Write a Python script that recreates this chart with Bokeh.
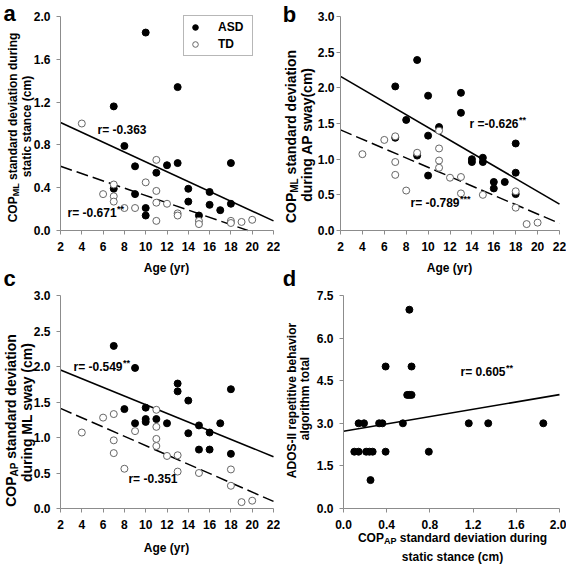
import math
from bokeh.plotting import figure
from bokeh.models import Range1d, FixedTicker, Label, Legend, LegendItem
from bokeh.layouts import row, column
from bokeh.embed import file_html
from bokeh.resources import INLINE

# ---------------- data ----------------
age_ticks = [2, 4, 6, 8, 10, 12, 14, 16, 18, 20, 22]
age_labels = ["2", "4", "6", "8", "10", "12", "14", "16", "18", "20", "22"]
a_y_ticks = [0.0, 0.4, 0.8, 1.2, 1.6, 2.0]
a_y_labels = ["0.0", "0.4", "0.8", "1.2", "1.6", "2.0"]
bc_y_ticks = [0.0, 0.5, 1.0, 1.5, 2.0, 2.5, 3.0]
bc_y_labels = ["0.0", "0.5", "1.0", "1.5", "2.0", "2.5", "3.0"]
d_x_ticks = [0.0, 0.4, 0.8, 1.2, 1.6, 2.0]
d_x_labels = ["0.0", "0.4", "0.8", "1.2", "1.6", "2.0"]
d_y_ticks = [0.0, 1.5, 3.0, 4.5, 6.0, 7.5]
d_y_labels = ["0.0", "1.5", "3.0", "4.5", "6.0", "7.5"]

# panel a
a_asd_age = [10, 13, 7, 8, 9, 11, 12, 13, 18, 14, 9, 7, 14, 16, 16, 17, 18, 10, 10, 15]
a_asd_val = [1.85, 1.34, 1.16, 0.79, 0.60, 0.54, 0.61, 0.63, 0.63, 0.39, 0.34, 0.39,
             0.27, 0.36, 0.24, 0.19, 0.25, 0.21, 0.14, 0.14]
a_td_age = [4, 11, 10, 7, 6, 7, 7, 8, 9, 11, 11, 12, 13, 13, 11, 15, 15, 18, 18, 19, 20]
a_td_val = [1.00, 0.66, 0.45, 0.43, 0.34, 0.32, 0.27, 0.21, 0.21, 0.37, 0.26, 0.25,
            0.16, 0.14, 0.09, 0.09, 0.06, 0.09, 0.07, 0.08, 0.10]
a_asd_fit_x = [2, 22]
a_asd_fit_y = [1.01, 0.09]
a_td_fit_x = [2, 19.6]
a_td_fit_y = [0.60, 0.0]

# panel b
b_asd_age = [9, 7, 10, 13, 13, 8, 11, 10, 7, 9, 10, 14, 14, 15, 15, 16, 16, 17, 18, 18, 18]
b_asd_val = [2.39, 2.02, 1.89, 1.93, 1.65, 1.55, 1.45, 1.33, 1.30, 1.05, 0.77, 1.00,
             0.96, 1.02, 0.96, 0.68, 0.59, 0.68, 1.22, 0.81, 0.51]
b_td_age = [4, 6, 7, 7, 7, 8, 9, 11, 11, 11, 11, 12, 13, 13, 15, 18, 18, 19, 20]
b_td_val = [1.07, 1.27, 1.32, 0.96, 0.78, 0.56, 1.09, 1.40, 1.15, 0.98, 0.88, 0.74,
            0.75, 0.52, 0.50, 0.55, 0.32, 0.09, 0.11]
b_asd_fit_x = [2, 22]
b_asd_fit_y = [2.16, 0.37]
b_td_fit_x = [2, 22]
b_td_fit_y = [1.41, 0.10]

# panel c
c_asd_age = [7, 9, 13, 13, 18, 14, 8, 10, 10, 10, 9, 11, 12, 17, 15, 16, 14, 15, 16, 18]
c_asd_val = [2.29, 1.98, 1.76, 1.65, 1.68, 1.52, 1.40, 1.42, 1.26, 1.22, 1.20, 1.26,
             1.20, 1.20, 1.17, 1.07, 1.06, 0.83, 0.83, 0.77]
c_td_age = [4, 6, 7, 7, 7, 8, 9, 11, 11, 11, 11, 12, 13, 13, 15, 18, 18, 19, 20]
c_td_val = [1.07, 1.28, 1.33, 0.96, 0.78, 0.56, 1.09, 1.39, 1.15, 0.98, 0.88, 0.74,
            0.75, 0.52, 0.50, 0.55, 0.32, 0.09, 0.11]
c_asd_fit_x = [2, 22]
c_asd_fit_y = [1.95, 0.73]
c_td_fit_x = [2, 22]
c_td_fit_y = [1.41, 0.10]

# panel d
d_cop = [0.61, 0.39, 0.63, 0.59, 0.61, 0.63, 0.14, 0.19, 0.33, 0.36, 0.55, 1.16, 1.34,
         1.85, 0.10, 0.14, 0.21, 0.24, 0.27, 0.39, 0.79, 0.25]
d_ados = [7, 5, 5, 4, 4, 4, 3, 3, 3, 3, 3, 3, 3, 3, 2, 2, 2, 2, 2, 2, 2, 1]
d_fit_x = [0.0, 2.0]
d_fit_y = [2.72, 4.01]

# ---------------- styling helpers ----------------
FONT = "Liberation Sans"
AXC = "#8c8c8c"

_W = {' ': 278, '!': 333, '(': 333, ')': 333, '*': 389, '-': 333, '.': 278, '=': 584,
      'A': 722, 'B': 722, 'C': 722, 'D': 722, 'E': 667, 'F': 611, 'G': 778, 'H': 722,
      'I': 278, 'J': 556, 'K': 722, 'L': 611, 'M': 833, 'N': 722, 'O': 778, 'P': 667,
      'Q': 778, 'R': 722, 'S': 667, 'T': 611, 'U': 722, 'V': 667, 'W': 944, 'X': 667,
      'Y': 667, 'Z': 611, 'a': 556, 'b': 611, 'c': 556, 'd': 611, 'e': 556, 'f': 333,
      'g': 611, 'h': 611, 'i': 278, 'j': 278, 'k': 556, 'l': 278, 'm': 889, 'n': 611,
      'o': 611, 'p': 611, 'q': 611, 'r': 389, 's': 556, 't': 333, 'u': 611, 'v': 556,
      'w': 778, 'x': 556, 'y': 556, 'z': 500}


def tw(s, size):
    return sum(_W.get(ch, 556) for ch in s) / 1000.0 * size


def lab(p, text, x, y, size, units="screen", angle=0.0, align="left",
        baseline="middle", xo=0, yo=0):
    p.add_layout(Label(x=x, y=y, x_units=units, y_units=units, text=text,
                       angle=angle, text_font=FONT, text_font_style="bold",
                       text_font_size=f"{size}px", text_color="black",
                       text_align=align, text_baseline=baseline,
                       x_offset=xo, y_offset=yo))


def rich_h(p, segs, cx, cy):
    """horizontal text centred at (cx, cy), canvas px from top-left"""
    H = p.height
    total = sum(tw(t, s) for t, s, sh in segs)
    x = cx - total / 2
    for t, s, sh in segs:
        body = t.lstrip()
        c = x + tw(t[:len(t) - len(body)], s) + tw(body, s) / 2
        lab(p, body, c, H - cy + sh, s, align="center")
        x += tw(t, s)


def rich_v(p, segs, cx, cy):
    """text rotated to read upwards, centred at (cx, cy), canvas px from top-left"""
    H = p.height
    total = sum(tw(t, s) for t, s, sh in segs)
    y = (H - cy) - total / 2
    for t, s, sh in segs:
        body = t.lstrip()
        c = y + tw(t[:len(t) - len(body)], s) + tw(body, s) / 2
        lab(p, body, cx - sh, c, s, angle=math.pi / 2, align="center")
        y += tw(t, s)


def letter(p, ch, cx, cy):
    lab(p, ch, cx, p.height - cy, 22, align="center")


def r_label(p, main, stars, x, y):
    lab(p, main, x, y, 12, units="data")
    if stars:
        lab(p, stars, x, y, 9, units="data", xo=tw(main, 12) + 0.5, yo=4)


def make_fig(w, h, box, xd, yd, xt, xl, yt, yl, ystand=6):
    """box = (left, right, top, bottom) of the plotting area in canvas px"""
    l, r, t, b = box
    kx = (r - l) / (xd[1] - xd[0])
    ky = (b - t) / (yd[1] - yd[0])
    xr = Range1d(xd[0] - l / kx, xd[1] + (w - r) / kx)
    yr = Range1d(yd[0] - (h - b) / ky, yd[1] + t / ky)
    p = figure(width=w, height=h, x_range=xr, y_range=yr,
               output_backend="svg", toolbar_location=None, tools="")
    p.min_border_left = 0
    p.min_border_right = 0
    p.min_border_top = 0
    p.min_border_bottom = 0
    p.xgrid.visible = False
    p.ygrid.visible = False
    p.outline_line_color = None
    p.background_fill_color = "white"
    p.border_fill_color = "white"
    p.xaxis.fixed_location = yd[0]
    p.yaxis.fixed_location = xd[0]
    p.xaxis.bounds = (xd[0], xd[1])
    p.yaxis.bounds = (yd[0], yd[1])
    for ax, ticks, labels, so in ((p.xaxis[0], xt, xl, 7), (p.yaxis[0], yt, yl, ystand)):
        ax.ticker = FixedTicker(ticks=ticks)
        ax.major_label_overrides = dict(zip(ticks, labels))
        ax.axis_line_color = AXC
        ax.axis_line_width = 1
        ax.major_tick_line_color = AXC
        ax.major_tick_in = 0
        ax.major_tick_out = 4
        ax.minor_tick_line_color = None
        ax.major_label_text_font = FONT
        ax.major_label_text_font_style = "bold"
        ax.major_label_text_font_size = "12px"
        ax.major_label_text_color = "black"
        ax.major_label_standoff = so
    return p


def two_groups(p, asd_x, asd_y, td_x, td_y, fa_x, fa_y, ft_x, ft_y):
    p.line(fa_x, fa_y, line_color="black", line_width=1.6)
    p.line(ft_x, ft_y, line_color="black", line_width=1.5, line_dash="12 5")
    ra = p.scatter(asd_x, asd_y, size=7, marker="circle", fill_color="black",
                   line_color="black", line_width=1)
    rt = p.scatter(td_x, td_y, size=7, marker="circle", fill_color="white",
                   line_color="#666666", line_width=1)
    return ra, rt


W1, W2, H1, H2 = 280, 286, 290, 280

# ---------------- panel a ----------------
p1 = make_fig(W1, H1, (60, 273, 16, 230), (2, 22), (0, 2.0),
              age_ticks, age_labels, a_y_ticks, a_y_labels)
ra, rt = two_groups(p1, a_asd_age, a_asd_val, a_td_age, a_td_val,
                    a_asd_fit_x, a_asd_fit_y, a_td_fit_x, a_td_fit_y)
leg = Legend(items=[LegendItem(label="ASD", renderers=[ra]),
                    LegendItem(label="TD", renderers=[rt])],
             location=(183, H1 - 56), orientation="vertical", margin=0, padding=4,
             spacing=3, glyph_width=14, glyph_height=14, label_height=14,
             label_width=30, label_standoff=16, border_line_color="#707070",
             border_line_width=1, background_fill_color="white",
             background_fill_alpha=1.0, label_text_font=FONT,
             label_text_font_style="bold", label_text_font_size="12px",
             label_text_color="black")
p1.add_layout(leg)
r_label(p1, "r= -0.363", "", 5.47, 0.935)
r_label(p1, "r= -0.671", "**", 2.66, 0.16)
rich_v(p1, [("COP", 12, 0), ("ML", 9, -3), (" standard deviation during", 12, 0)], 12, 127)
rich_v(p1, [("static stance (cm)", 12, 0)], 26, 126)
rich_h(p1, [("Age (yr)", 12, 0)], 166, 267)
letter(p1, "a", 9, 13)
letter(p1, "c", 9, 278)

# ---------------- panel b ----------------
p2 = make_fig(W2, H1, (60, 279, 16, 230), (2, 22), (0, 3.0),
              age_ticks, age_labels, bc_y_ticks, bc_y_labels, ystand=2)
two_groups(p2, b_asd_age, b_asd_val, b_td_age, b_td_val,
           b_asd_fit_x, b_asd_fit_y, b_td_fit_x, b_td_fit_y)
r_label(p2, "r =-0.626", "**", 13.78, 1.50)
r_label(p2, "r= -0.789", "***", 8.39, 0.38)
rich_v(p2, [("COP", 14, 0), ("ML", 10, -3.5), (" standard deviation", 14, 0)], 10, 136)
rich_v(p2, [("during AP sway(cm)", 14, 0)], 26, 134)
rich_h(p2, [("Age (yr)", 12, 0)], 169, 267)
letter(p2, "b", 9, 14)
letter(p2, "d", 9, 278)

# ---------------- panel c ----------------
p3 = make_fig(W1, H2, (60, 273, 5, 218), (2, 22), (0, 3.0),
              age_ticks, age_labels, bc_y_ticks, bc_y_labels)
two_groups(p3, c_asd_age, c_asd_val, c_td_age, c_td_val,
           c_asd_fit_x, c_asd_fit_y, c_td_fit_x, c_td_fit_y)
r_label(p3, "r= -0.549", "**", 3.22, 1.99)
r_label(p3, "r= -0.351", "", 8.38, 0.41)
rich_v(p3, [("COP", 14, 0), ("AP", 10, -3.5), (" standard deviation", 14, 0)], 10, 130)
rich_v(p3, [("during ML sway (cm)", 14, 0)], 26, 122)
rich_h(p3, [("Age (yr)", 12, 0)], 166, 257)

# ---------------- panel d ----------------
p4 = make_fig(W2, H2, (63, 279, 5, 218), (0, 2.0), (0, 7.5),
              d_x_ticks, d_x_labels, d_y_ticks, d_y_labels)
p4.line(d_fit_x, d_fit_y, line_color="black", line_width=1.6)
p4.scatter(d_cop, d_ados, size=7, marker="circle", fill_color="black",
           line_color="black")
r_label(p4, "r= 0.605", "**", 1.083, 4.79)
rich_v(p4, [("ADOS-II repetitive behavior", 12, 0)], 11, 110)
rich_v(p4, [("algorithm total", 12, 0)], 24, 108)
rich_h(p4, [("COP", 12, 0), ("AP", 9, -3), (" standard deviation during", 12, 0)], 172, 247)
rich_h(p4, [("static stance (cm)", 12, 0)], 172, 266)

layout = column(row(p1, p2), row(p3, p4))
open("out.html", "w").write(file_html(layout, INLINE))
